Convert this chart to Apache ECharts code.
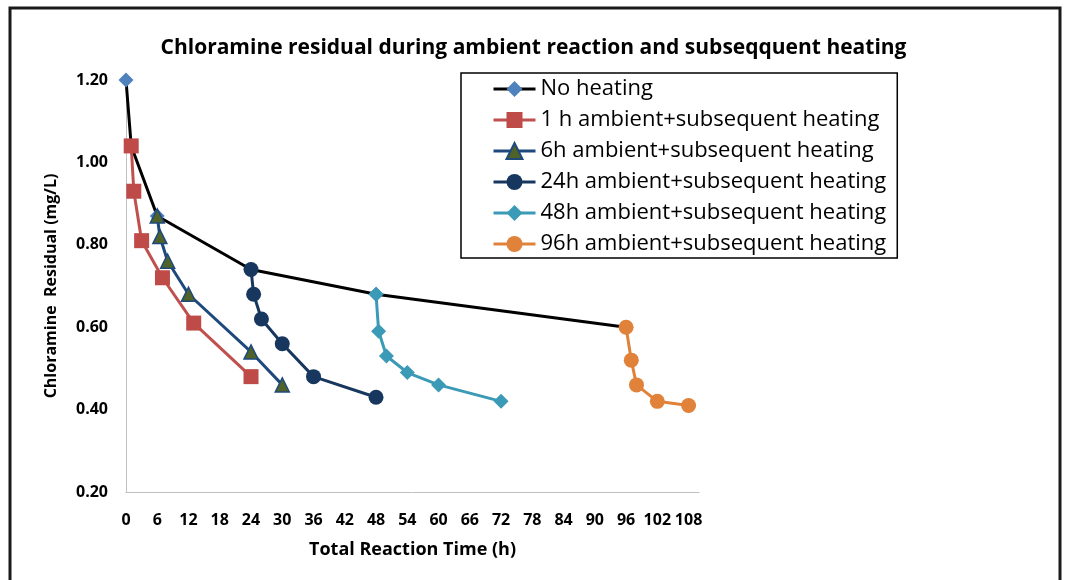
<!DOCTYPE html>
<html>
<head>
<meta charset="utf-8">
<script src="https://cdn.jsdelivr.net/npm/echarts@6/dist/echarts.min.js"></script>
<style>
html,body{margin:0;padding:0;background:#fff;}
#chart{width:1067px;height:580px;}
</style>
</head>
<body>
<div id="chart"></div>
<script>
const seriesNames = [
  'No heating',
  '1 h ambient+subsequent heating',
  '6h ambient+subsequent heating',
  '24h ambient+subsequent heating',
  '48h ambient+subsequent heating',
  '96h ambient+subsequent heating'
];
const noHeatTime = [0, 1, 6, 24, 48, 96];
const noHeatVal  = [1.20, 1.04, 0.87, 0.74, 0.68, 0.60];
const h1Time = [1, 1.5, 3, 7, 13, 24];
const h1Val  = [1.04, 0.93, 0.81, 0.72, 0.61, 0.48];
const h6Time = [6, 6.5, 8, 12, 24, 30];
const h6Val  = [0.87, 0.82, 0.76, 0.68, 0.54, 0.46];
const h24Time = [24, 24.5, 26, 30, 36, 48];
const h24Val  = [0.74, 0.68, 0.62, 0.56, 0.48, 0.43];
const h48Time = [48, 48.5, 50, 54, 60, 72];
const h48Val  = [0.68, 0.59, 0.53, 0.49, 0.46, 0.42];
const h96Time = [96, 97, 98, 102, 108];
const h96Val  = [0.60, 0.52, 0.46, 0.42, 0.41];

function pairs(t, v) { return t.map((x, i) => [x, v[i]]); }

const FONT = '"Open Sans"';
const chart = echarts.init(document.getElementById('chart'));

function mkSeries(name, t, v, lineColor, symbol, size, fill, border) {
  return {
    name: name, type: 'line', data: pairs(t, v),
    symbol: symbol, symbolSize: size, showAllSymbol: true,
    lineStyle: { color: lineColor, width: 3 },
    itemStyle: { color: fill, borderColor: border || fill, borderWidth: border ? 1.5 : 0 },
    emphasis: { disabled: true },
    animation: false
  };
}

chart.setOption({
  animation: false,
  backgroundColor: '#ffffff',
  title: {
    text: 'Chloramine residual during ambient reaction and subseqquent heating',
    left: 'center', top: 33,
    textStyle: { fontFamily: FONT, fontWeight: 'bold', fontSize: 21, color: '#000' }
  },
  graphic: [{
    type: 'rect', silent: true,
    shape: { x: 10, y: 8, width: 1050, height: 600 },
    style: { fill: 'none', stroke: '#1a1a1a', lineWidth: 3 }
  }],
  legend: {
    orient: 'vertical', left: 461, top: 73,
    padding: [4, 11, 2, 31],
    itemGap: 7, itemWidth: 42, itemHeight: 20,
    borderColor: '#000', borderWidth: 1.5,
    lineStyle: { width: 3 },
    textStyle: { fontFamily: FONT, fontSize: 22, color: '#000', lineHeight: 24 },
    data: seriesNames
  },
  grid: { left: 126, right: 368, top: 80, bottom: 88, containLabel: false },
  xAxis: {
    type: 'value', min: 0, max: 110, interval: 6,
    name: 'Total Reaction Time (h)', nameLocation: 'middle', nameGap: 49,
    nameTextStyle: { fontFamily: FONT, fontWeight: 'bold', fontSize: 18, color: '#000' },
    axisLine: { show: true, lineStyle: { color: '#BFBFBF', width: 1 } },
    axisTick: { show: false },
    splitLine: { show: false },
    axisLabel: {
      fontFamily: FONT, fontWeight: 'bold', fontSize: 16, color: '#000', margin: 20,
      showMaxLabel: false,
      formatter: function (v) { return v > 108 ? '' : String(v); }
    }
  },
  yAxis: {
    type: 'value', min: 0.2, max: 1.2, interval: 0.2,
    name: 'Chloramine  Residual (mg/L)', nameLocation: 'middle', nameGap: 67, nameRotate: 90,
    nameTextStyle: { fontFamily: FONT, fontWeight: 'bold', fontSize: 16, color: '#000' },
    axisLine: { show: true, lineStyle: { color: '#BFBFBF', width: 1 } },
    axisTick: { show: false },
    splitLine: { show: false },
    axisLabel: {
      fontFamily: FONT, fontWeight: 'bold', fontSize: 16, color: '#000', margin: 18,
      formatter: function (v) { return v.toFixed(2); }
    }
  },
  series: [
    mkSeries(seriesNames[0], noHeatTime, noHeatVal, '#000000', 'diamond', 15, '#4F81BD'),
    mkSeries(seriesNames[1], h1Time, h1Val, '#C0504D', 'rect', 15, '#BE4B48'),
    mkSeries(seriesNames[2], h6Time, h6Val, '#1F497D', 'triangle', 14, '#4F6228', '#1F497D'),
    mkSeries(seriesNames[3], h24Time, h24Val, '#17375E', 'circle', 15, '#17375E'),
    mkSeries(seriesNames[4], h48Time, h48Val, '#3B9AB5', 'diamond', 15, '#3B9AB5'),
    mkSeries(seriesNames[5], h96Time, h96Val, '#E0823A', 'circle', 15, '#E0823A')
  ]
});
</script>
</body>
</html>
